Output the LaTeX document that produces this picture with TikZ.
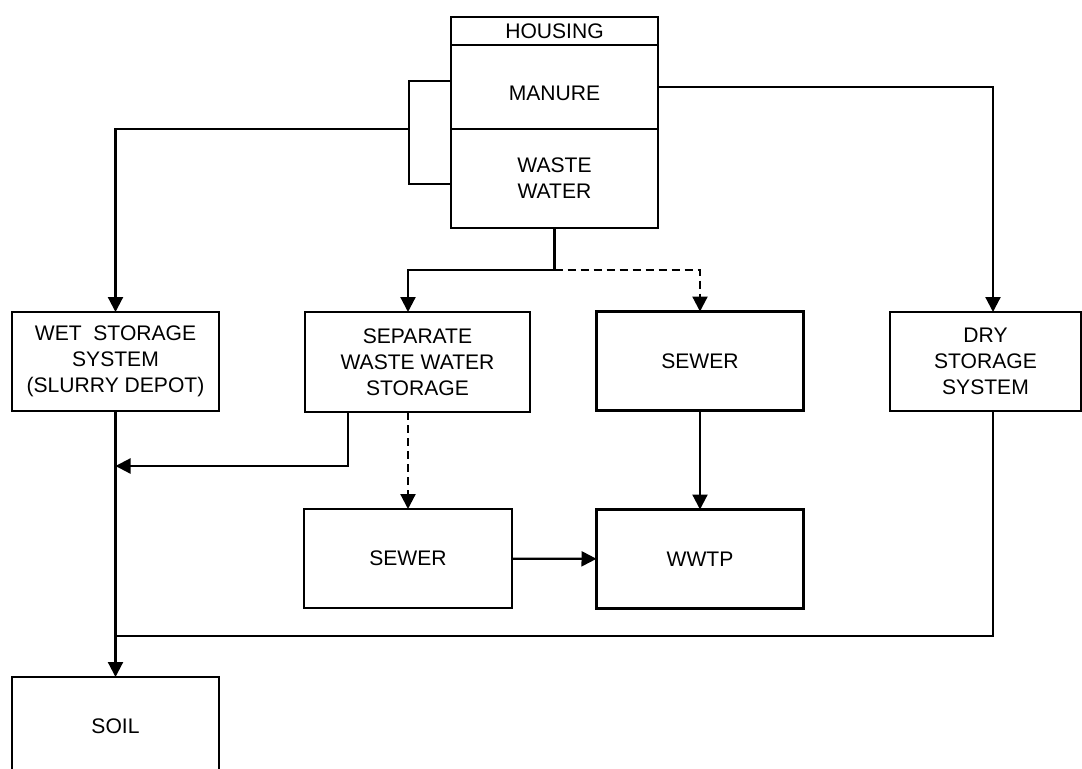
\documentclass[tikz,border=0pt]{standalone}
\usepackage{fontspec}
\setmainfont{Liberation Sans}
\usepackage{tikz}
\usetikzlibrary{arrows.meta}
\usetikzlibrary{positioning}
\newcommand{\stagewidth}[0]{4.14cm}
\newcommand{\stageheight}[0]{1.98cm}
\tikzset{
    stagebox/.style={rectangle, draw=black, line width=1.25pt, outer sep=0pt, inner sep=0pt,
        minimum width=\stagewidth, minimum height=\stageheight, align=center},
    flow/.style={line width=1.25pt, -{Triangle[length=0.3cm, width=0.3cm]}},
    link/.style={line width=1.25pt},
    dashflow/.style={flow, dash pattern=on 0.16cm off 0.1cm}
}

\begin{document}
\begin{tikzpicture}[font=\fontsize{12}{14.8}\selectfont]
    \useasboundingbox (0,0) rectangle (21.64,-15.38);
    \node[stagebox, minimum height=0.56cm]
        (housing) at (11.09,-0.62) {HOUSING};
    \node[stagebox, minimum height=1.68cm, text height=0.54cm, text depth=0cm, below=0cm of housing]
        (manure) {MANURE};
    \node[stagebox, below=0cm of manure]
        (waste_water) {WASTE\\WATER};
    \node[stagebox]
        (wet_storage) at (2.31,-7.23) {WET\ \ STORAGE\\SYSTEM\\(SLURRY DEPOT)};
    \node[stagebox, minimum width=4.5cm, minimum height=2cm]
        (separate) at (8.35,-7.24) {SEPARATE\\WASTE WATER\\STORAGE};
    \node[stagebox]
        (sewer_upper) at (14.0,-7.22) {SEWER};
    \node[stagebox, minimum width=3.82cm]
        (dry_storage) at (19.71,-7.23) {DRY\\STORAGE\\SYSTEM};
    \node[stagebox, minimum width=4.16cm]
        (sewer_lower) at (8.16,-11.17) {SEWER};
    \node[stagebox, below=1.98cm of sewer_upper]
        (wwtp) {WWTP};
    \node[stagebox, below=5.32cm of wet_storage]
        (soil) {SOIL};

    % junctions
    \coordinate (bracket) at (8.18,-2.58);
    \coordinate[below=0.84cm of waste_water] (split);
    \coordinate[below=1.1cm of wet_storage] (wet_in);
    \coordinate[below=4.5cm of wet_storage] (soil_in);

    % manure and waste water out of the housing
    \draw[link] ([yshift=0.12cm]manure.west) -| (bracket) |- ([yshift=-0.11cm]waste_water.west);
    \draw[flow] (bracket) -| (wet_storage);
    \draw[flow] (manure.east) -| ([xshift=0.15cm]dry_storage.north);
    \draw[link] (waste_water.south) -- (split);
    \draw[flow] (split) -| ([xshift=-0.19cm]separate.north);
    \draw[dashflow] (split) -| (sewer_upper.north);

    % storage to sewer and treatment
    \draw[dashflow] (separate.south -| sewer_lower.north) -- (sewer_lower.north);
    \draw[flow] (sewer_lower) -- (wwtp);
    \draw[flow] (sewer_upper) -- (wwtp);

    % everything to the soil
    \draw[flow] ([xshift=-1.39cm]separate.south) |- (wet_in);
    \draw[link] ([xshift=0.15cm]dry_storage.south) |- (soil_in);
    \draw[flow] (wet_storage) -- (soil);
\end{tikzpicture}
\end{document}
